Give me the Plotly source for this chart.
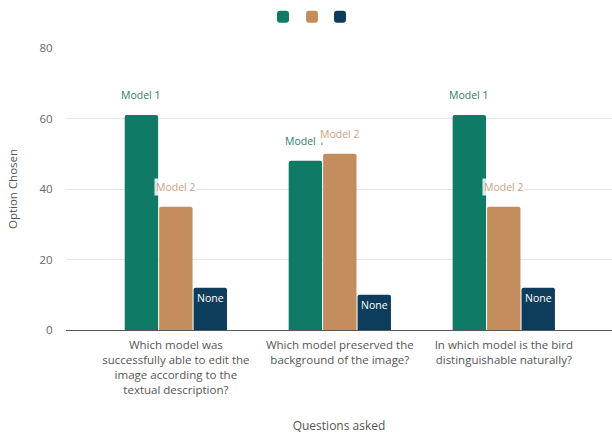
import plotly.graph_objects as go

categories = [
    "Which model was<br>successfully able to edit the<br>image according to the<br>textual description?",
    "Which model preserved the<br>background of the image?",
    "In which model is the bird<br>distinguishable naturally?",
]
series_names = ["Model 1", "Model 2", "None"]
model1 = [61, 48, 61]
model2 = [35, 50, 35]
none_vals = [12, 10, 12]
y_ticks = [0, 20, 40, 60, 80]

colors = ["#0f7a65", "#c38d5e", "#0e3c5b"]
label_colors = ["#2e7d6b", "#c9a27e", "#ffffff"]
FONT = "Open Sans, Lato, sans-serif"

fig = go.Figure()
values = [model1, model2, none_vals]
x_idx = list(range(len(categories)))
legend_ids = ["legend", "legend2", "legend3"]
for name, vals, col, lg in zip(series_names, values, colors, legend_ids):
    fig.add_trace(go.Bar(
        x=x_idx, y=vals, name=" ", marker=dict(color=col, line=dict(width=0)),
        showlegend=True, hoverinfo="skip", legend=lg,
    ))

# data labels
bar_w = 34
offsets = [-bar_w - 1, 0, bar_w + 1]
for s, (name, vals) in enumerate(zip(series_names, values)):
    for i, v in enumerate(vals):
        if s < 2:
            fig.add_annotation(
                x=i, y=v, xref="x", yref="y", text=name, showarrow=False,
                xshift=offsets[s], yshift=20,
                font=dict(family=FONT, size=10.5, color=label_colors[s]),
                bgcolor="rgba(255,255,255,0.85)" if s == 1 else None,
            )
        else:
            fig.add_annotation(
                x=i, y=v, xref="x", yref="y", text=name, showarrow=False,
                xshift=offsets[s], yshift=-10,
                font=dict(family=FONT, size=10.5, color="#ffffff"),
            )

def leg(xpx):
    return dict(orientation="h", x=(xpx - 66) / 546, xanchor="left", y=0.995, yanchor="top",
                yref="container", itemwidth=30, font=dict(size=1),
                bgcolor="rgba(0,0,0,0)", borderwidth=0)

fig.update_layout(
    width=612, height=434,
    margin=dict(l=66, r=0, t=48, b=104),
    paper_bgcolor="white", plot_bgcolor="white",
    barmode="group", bargap=0.37, bargroupgap=0.03,
    barcornerradius=2,
    font=dict(family=FONT, size=11, color="#666666"),
    legend=leg(263), legend2=leg(292), legend3=leg(320),
    xaxis=dict(
        tickmode="array", tickvals=x_idx, ticktext=categories,
        range=[-0.67, 2.66], showgrid=False, zeroline=False,
        showline=True, linecolor="#555555", linewidth=1,
        tickfont=dict(family=FONT, size=11.5, color="#555555"),
        ticklabelstandoff=4,
        title=dict(text="Questions asked", font=dict(family=FONT, size=12, color="#555555"), standoff=26),
        ticks="",
    ),
    yaxis=dict(
        range=[0, 80], tickvals=y_ticks, showgrid=True, gridcolor="#e6e6e6",
        zeroline=False, ticks="outside", ticklen=10, tickcolor="rgba(0,0,0,0)",
        tickfont=dict(family=FONT, size=11.5, color="#666666"),
        title=dict(text="Option Chosen", font=dict(family=FONT, size=11.5, color="#555555"), standoff=19),
    ),
)

fig.write_html("out.html")
